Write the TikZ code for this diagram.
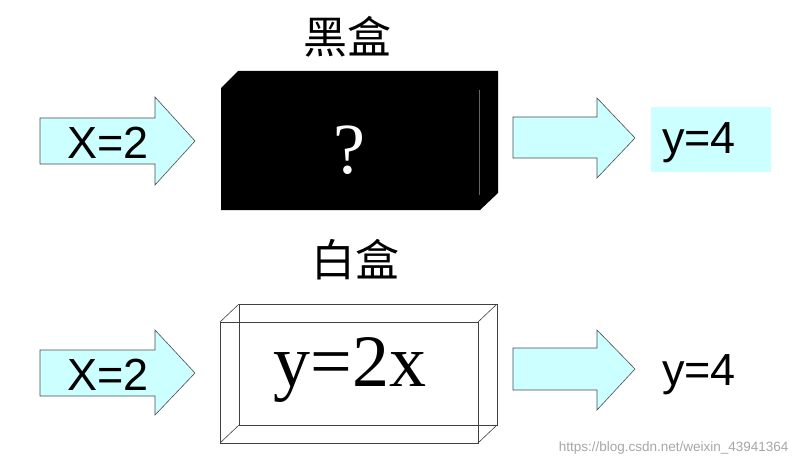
\documentclass[tikz,border=0pt]{standalone}
\usepackage{fontspec}
\setmainfont{Liberation Sans}
\newfontfamily\cjk{Noto Sans CJK SC}
\newfontfamily\serifx{Liberation Serif}
\definecolor{lc}{HTML}{CCFFFF}
\begin{document}
\begin{tikzpicture}[x=1pt,y=-1pt,
  arr/.style={draw=black!70,fill=lc,line width=0.6pt},
  lbl/.style={font=\fontsize{45}{48}\selectfont,inner sep=0pt},
  edge/.style={draw=black!75,line width=0.6pt}]
\useasboundingbox (0,0) rectangle (799,465);
% titles
\node[font=\cjk\fontsize{44}{46}\selectfont] (t1) at (347,37) {黑盒};
\node[font=\cjk\fontsize{44}{46}\selectfont] (t2) at (355,260) {白盒};
% top left arrow
\draw[arr] (40,118) -- (155,118) -- (155,97) -- (195,141) -- (155,185) -- (155,164) -- (40,164) -- cycle;
\node[lbl] (x1) at (108,143) {X=2};
% black box
\fill[black] (221,88) -- (238,71) -- (498,71) -- (498,193) -- (480,210) -- (221,210) -- cycle;
\draw[black!60,line width=0.5pt] (479,90) -- (479,195);
\node[white,font=\serifx\fontsize{72}{74}\selectfont] (q) at (349,150) {?};
% top right arrow
\draw[arr] (513,117) -- (597,117) -- (597,98) -- (635,138) -- (597,178) -- (597,158) -- (513,158) -- cycle;
\fill[lc] (651,107) rectangle (771,172);
\node[lbl] (y1) at (699,143) {y=4};
% bottom left arrow
\draw[arr] (40,350) -- (155,350) -- (155,330) -- (195,373) -- (155,415) -- (155,396) -- (40,396) -- cycle;
\node[lbl] (x2) at (108,375) {X=2};
% white box
\draw[edge] (220,322) rectangle (478,443);
\draw[edge] (239,304) rectangle (497,425);
\draw[edge] (220,322) -- (239,304) (478,322) -- (497,304) (478,443) -- (497,425) (220,443) -- (239,425);
\node[font=\serifx\fontsize{74}{76}\selectfont] (f) at (350,370) {y=2x};
% bottom right arrow
\draw[arr] (513,348) -- (597,348) -- (597,330) -- (635,369) -- (597,410) -- (597,390) -- (513,390) -- cycle;
\node[lbl] (y2) at (699,375) {y=4};
\node[black!35,font=\fontsize{13.5}{14}\selectfont,anchor=east] (wm) at (792,448) {https://blog.csdn.net/weixin\_43941364};
\end{tikzpicture}
\end{document}
